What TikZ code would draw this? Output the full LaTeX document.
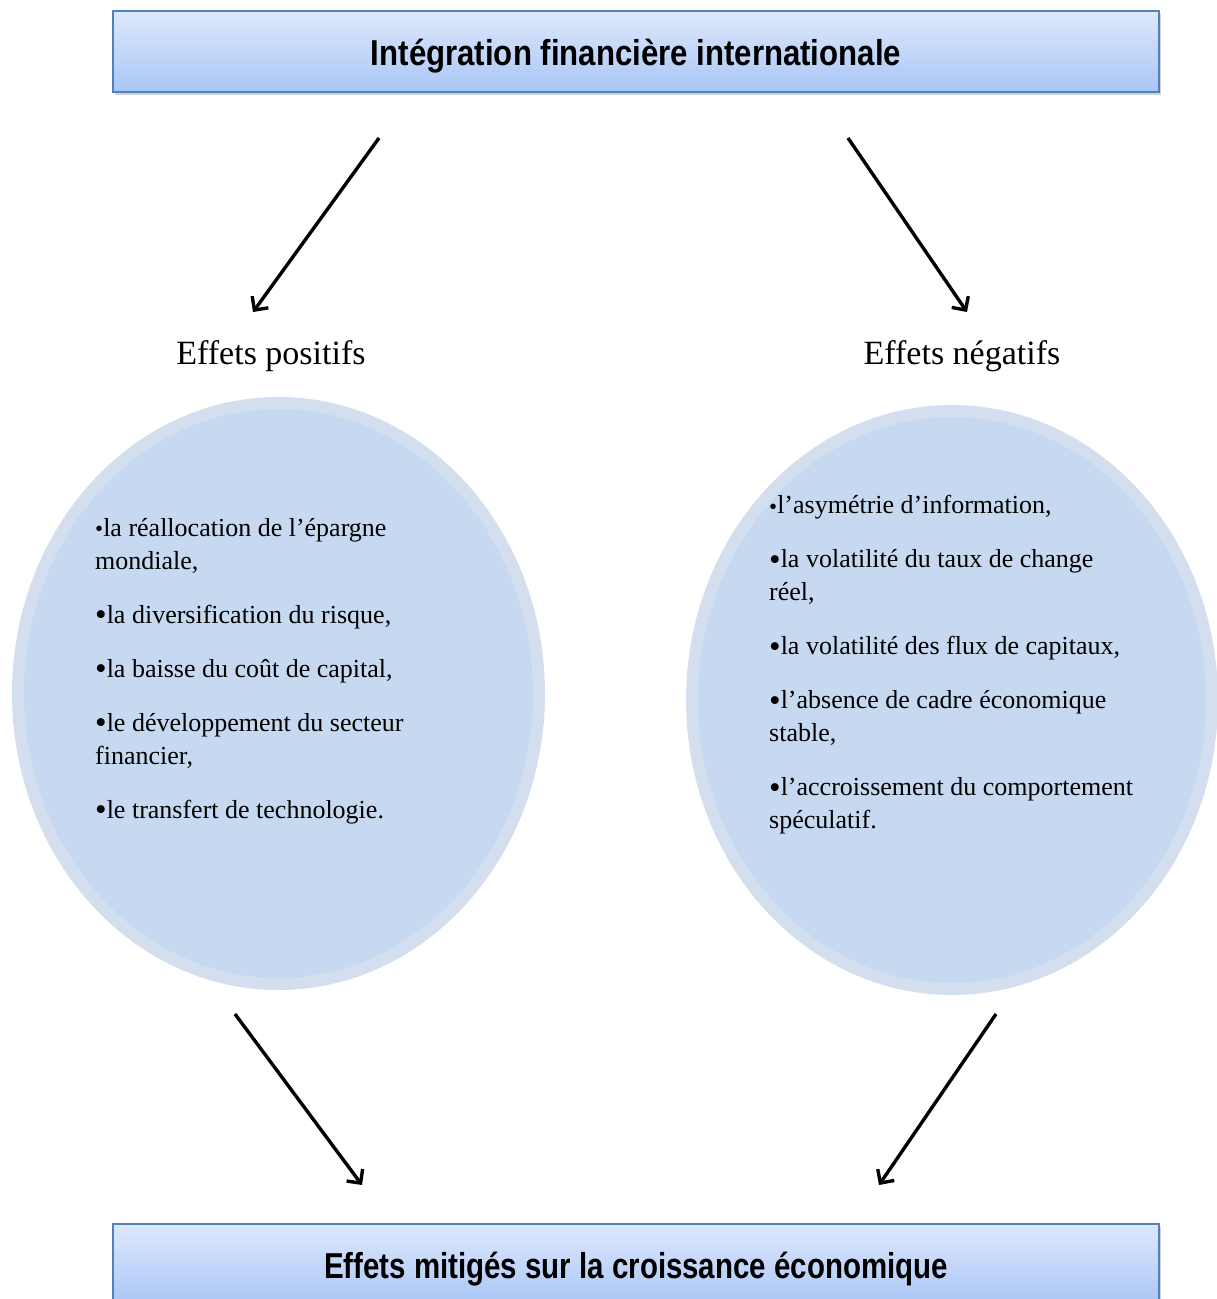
\documentclass[tikz,border=0pt]{standalone}
\usepackage{fontspec}
\setmainfont{Liberation Serif}
\newfontfamily\titrefont{Liberation Sans}
\usetikzlibrary{arrows.meta,shadows,shapes.geometric}

\definecolor{bordbleu}{HTML}{4F81BD}
\definecolor{hautbleu}{HTML}{DEE8FB}
\definecolor{basbleu}{HTML}{A9C6F7}
\definecolor{bulleint}{HTML}{C6D9F0}
\definecolor{bulleext}{HTML}{D3DFEF}

\newcommand{\puce}{\raisebox{-2.5pt}{\fontsize{33}{33}\selectfont•}}
\newcommand{\petitepuce}{\raisebox{-0.5pt}{\fontsize{23}{33}\selectfont•}}

\begin{document}
\begin{tikzpicture}[x=1pt,y=-1pt,
  titre/.style={draw=bordbleu, line width=2pt, top color=hautbleu, bottom color=basbleu,
    minimum width=1046pt, minimum height=81pt, inner sep=0pt,
    text height=35pt, text depth=8pt,
    font=\titrefont\bfseries\fontsize{36}{40}\selectfont,
    drop shadow={shadow xshift=2pt, shadow yshift=-3pt, opacity=.35}},
  bulle/.style={ellipse, fill=bulleint, draw=bulleext, line width=12pt, inner sep=0pt},
  effet/.style={font=\fontsize{34}{40}\selectfont},
  liste/.style={anchor=north west, align=left, inner sep=0pt, font=\fontsize{26}{33}\selectfont},
  fleche/.style={line width=3.4pt, -{Straight Barb[length=10pt,width=20pt]}}]

  \useasboundingbox (0,0) rectangle (1216,1299);

  % les deux cadres
  \node[titre] (integ) at (636,51.5) {\scalebox{0.866}[1]{Intégration financière internationale}};
  \node[titre] (mitige) at (636,1264.5) {\scalebox{0.818}[1]{Effets mitigés sur la croissance économique}};

  % titres des deux cotes
  \node[effet] (positif) at (271,356) {Effets positifs};
  \node[effet] (negatif) at (962,356) {Effets négatifs};

  % les bulles
  \node[bulle, minimum width=521pt, minimum height=581pt] (bullepos) at (278.5,693.5) {};
  \node[bulle, minimum width=520pt, minimum height=578pt] (bulleneg) at (952,700) {};

  \node[liste] (listepos) at (95,518) {\petitepuce la réallocation de l’épargne\\ mondiale,\\[21pt]
    \puce la diversification du risque,\\[21pt]
    \puce la baisse du coût de capital,\\[21pt]
    \puce le développement du secteur\\ financier,\\[21pt]
    \puce le transfert de technologie.};
  \node[liste] (listeneg) at (769,495) {\petitepuce l’asymétrie d’information,\\[21pt]
    \puce la volatilité du taux de change\\ réel,\\[21pt]
    \puce la volatilité des flux de capitaux,\\[21pt]
    \puce l’absence de cadre économique\\ stable,\\[21pt]
    \puce l’accroissement du comportement\\ spéculatif.};

  % fleches
  \coordinate (d1) at (379,138);  \coordinate (f1) at (253,312);
  \coordinate (d2) at (848,138);  \coordinate (f2) at (967,312);
  \coordinate (d3) at (235,1014); \coordinate (f3) at (362,1185);
  \coordinate (d4) at (996,1014); \coordinate (f4) at (879,1185);
  \draw[fleche] (d1) -- (f1);
  \draw[fleche] (d2) -- (f2);
  \draw[fleche] (d3) -- (f3);
  \draw[fleche] (d4) -- (f4);
\end{tikzpicture}
\end{document}
